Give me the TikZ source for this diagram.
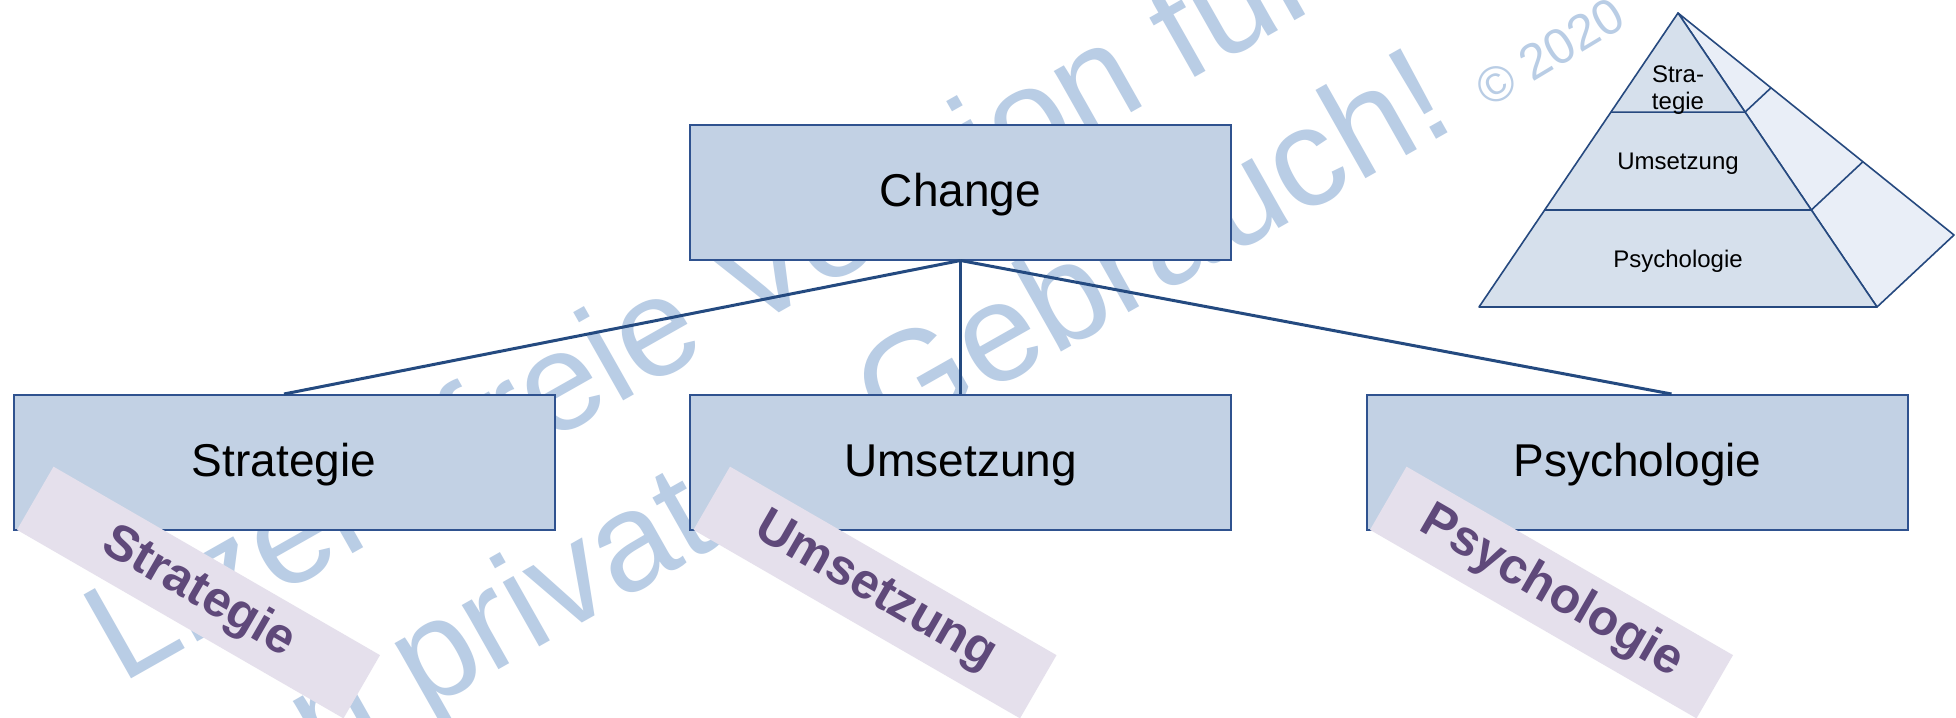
\documentclass[tikz,border=0pt]{standalone}
\usepackage{fontspec}
\setmainfont{Liberation Sans}
\usetikzlibrary{calc}
\definecolor{boxfill}{HTML}{C2D1E4}
\definecolor{boxline}{HTML}{2F528F}
\definecolor{linkline}{HTML}{244A80}
\definecolor{wmark}{HTML}{B9CDE5}
\definecolor{tagfill}{HTML}{E5E0EC}
\definecolor{tagtext}{HTML}{5F497A}
\definecolor{pyrfront}{HTML}{D6E0EC}
\definecolor{pyrside}{HTML}{E9EEF7}
\definecolor{pyrline}{HTML}{26497F}

\begin{document}
\begin{tikzpicture}[x=0.5pt,y=-0.5pt,
  topic/.style={draw=boxline, line width=1pt, fill=boxfill,
    minimum width=270.5pt, minimum height=67.5pt, inner sep=0pt,
    text depth=2.3pt, font=\fontsize{23}{27}\selectfont},
  link/.style={draw=linkline, line width=1.5pt},
  tag/.style={fill=tagfill, rotate=-30, minimum width=188.5pt,
    minimum height=36.5pt, inner sep=0pt, text=tagtext,
    font=\fontsize{25}{30}\selectfont\bfseries},
  wm/.style={text=wmark, rotate=29.5, inner sep=0pt,
    font=\fontsize{70}{84}\selectfont},
  pyr/.style={draw=pyrline, line width=0.8pt, line join=round},
  pyrtext/.style={inner sep=0pt, font=\fontsize{12}{13.5}\selectfont, align=center}]
\useasboundingbox (0,0) rectangle (1956,718);
\fill[white] (0,0) rectangle (1956,718);

% watermark
\node[wm, anchor=base west] (wm1) at (121,685) {Lizenzfreie Version für};
\node[wm, anchor=base east] (wm2) at (1460,126) {den privaten Gebrauch!};
\node[text=wmark, rotate=31, inner sep=0pt, font=\fontsize{25}{30}\selectfont]
  (wm3) at (1550,52) {© 2020};

% hierarchy
\node[topic] (change) at (960.5,192) {Change};
\node[topic] (strat) at (284,462.5) {Strategie};
\node[topic] (umsetz) at (960.5,462.5) {Umsetzung};
\node[topic] (psych) at (1637.5,462.5) {Psychologie};
\coordinate (psychtop) at ($(psych.north)+(34,0)$);

\draw[link] (change.south) -- (strat.north);
\draw[link] (change.south) -- (umsetz.north);
\draw[link] (change.south) -- (psychtop);

% tilted tags
\node[tag] (tagS) at (198.5,592.5) {Strategie};
\node[tag] (tagU) at (875,592.5) {Umsetzung};
\node[tag] (tagP) at (1551.5,592.5) {Psychologie};

% pyramid
\coordinate (apex) at (1678,13);
\coordinate (bl) at (1479,307);
\coordinate (br) at (1877,307);
\coordinate (back) at (1954,235);
\filldraw[pyr, fill=pyrside] (apex) -- (back) -- (br) -- cycle;
\filldraw[pyr, fill=pyrfront] (apex) -- (bl) -- (br) -- cycle;
\draw[pyr] ($(apex)!0.337!(bl)$) -- ($(apex)!0.337!(br)$) -- ($(apex)!0.337!(back)$);
\draw[pyr] ($(apex)!0.670!(bl)$) -- ($(apex)!0.670!(br)$) -- ($(apex)!0.670!(back)$);
\node[pyrtext] (pS) at (1678,90) {Stra-\\tegie};
\node[pyrtext, anchor=base] (pU) at (1678,169) {Umsetzung};
\node[pyrtext, anchor=base] (pP) at (1678,267) {Psychologie};
\end{tikzpicture}
\end{document}
